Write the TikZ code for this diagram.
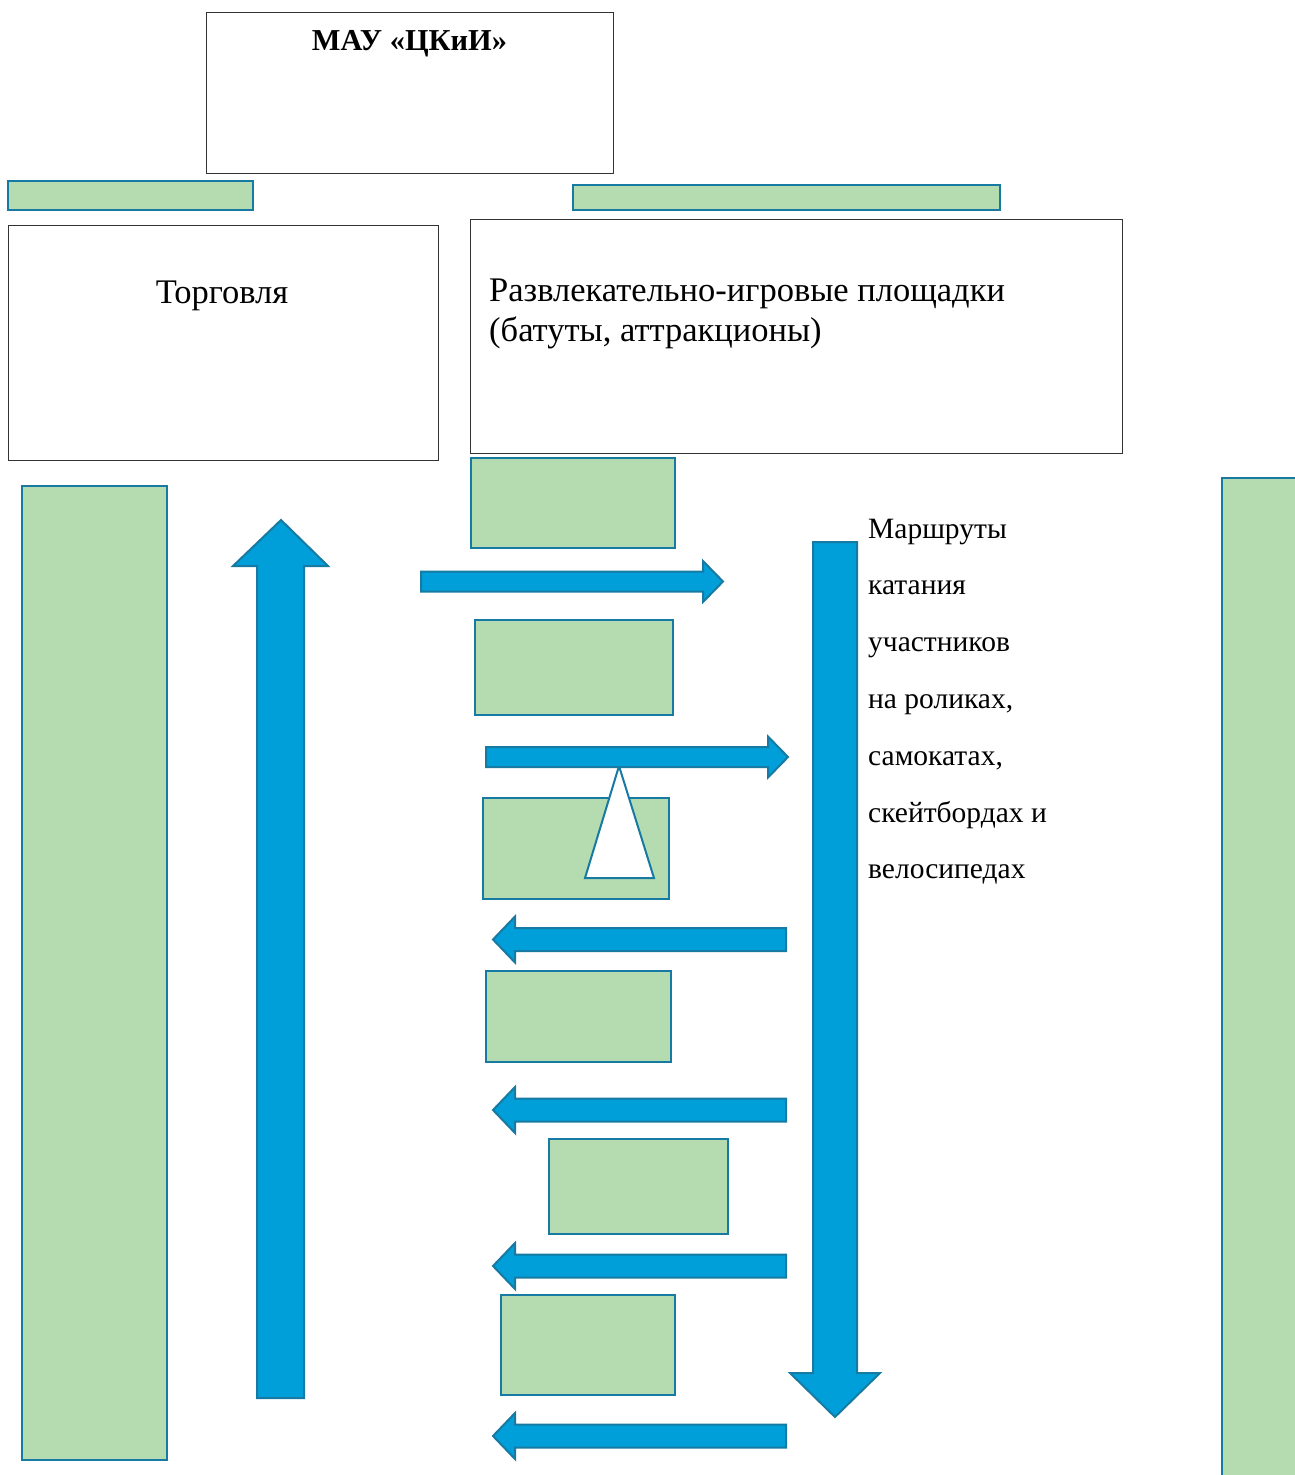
\documentclass[tikz,border=0pt]{standalone}
\usepackage{fontspec}
\setmainfont{Liberation Serif}
\usepackage{xcolor}
\usepackage{tikz}
\usetikzlibrary{positioning}

\definecolor{boxgreen}{RGB}{181,220,176}
\definecolor{boxedge}{RGB}{22,122,162}
\definecolor{arrowblue}{RGB}{0,159,217}

\tikzset{
  plainbox/.style={draw=black!80, line width=1pt, fill=white, inner sep=0pt, anchor=north west},
  greenbox/.style={draw=boxedge, line width=2pt, fill=boxgreen},
  blockarrow/.style={draw=boxedge, line width=2pt, fill=arrowblue, line join=miter},
  label/.style={inner sep=0pt, anchor=base}
}

\begin{document}
\begin{tikzpicture}[x=1pt, y=-1pt]
  \useasboundingbox (0,0) rectangle (1295,1475);

  % top boxes
  \node[plainbox, minimum width=407pt, minimum height=161pt] (mau) at (206,12) {};
  \node[label, font=\bfseries\fontsize{30.4}{36}\selectfont] (mautitle) at (409.5,50) {МАУ «ЦКиИ»};
  \draw[greenbox] (8,181) rectangle (253,210);
  \draw[greenbox] (573,185) rectangle (1000,210);
  \node[plainbox, minimum width=430pt, minimum height=235pt] (trade) at (8,225) {};
  \node[label, font=\fontsize{34.5}{40}\selectfont] (tradetitle) at (222,303) {Торговля};
  \node[plainbox, minimum width=652pt, minimum height=234pt] (play) at (470,219) {};
  % base of a two-line node sits on its last line
  \node[label, anchor=base west, align=left, font=\fontsize{34.5}{40}\selectfont] (playtitle) at (489,341)
    {Развлекательно-игровые площадки\\(батуты, аттракционы)};

  % side columns
  \draw[greenbox] (22,486) rectangle (167,1460);
  \draw[greenbox] (1222,478) rectangle (1320,1500);

  % middle boxes
  \draw[greenbox] (471,458) rectangle (675,548);
  \draw[greenbox] (475,620) rectangle (673,715);
  \draw[greenbox] (483,798) rectangle (669,899);
  \draw[greenbox] (486,971) rectangle (671,1062);
  \draw[greenbox] (549,1139) rectangle (728,1234);
  \draw[greenbox] (501,1295) rectangle (675,1395);
  \draw[draw=boxedge, line width=2pt, fill=white] (619,766) -- (654,878) -- (585,878) -- cycle;

  % vertical arrows
  \draw[blockarrow] (257,1398) -- (257,566) -- (233,566) -- (281,520) -- (328,566) -- (304,566) -- (304,1398) -- cycle;
  \draw[blockarrow] (813,542) -- (813,1373) -- (790,1373) -- (835,1417) -- (880,1373) -- (857,1373) -- (857,542) -- cycle;

  % horizontal arrows
  \foreach \xa/\xb/\xc/\y in {421/703/723/581.5, 486/768/788/757}
    \draw[blockarrow] (\xa,\y-10) -- (\xb,\y-10) -- (\xb,\y-20.5) -- (\xc,\y) -- (\xb,\y+20.5) -- (\xb,\y+10) -- (\xa,\y+10) -- cycle;
  \foreach \y in {939.5,1110,1266,1436}
    \draw[blockarrow] (786,\y-11.5) -- (515,\y-11.5) -- (515,\y-23) -- (493,\y) -- (515,\y+23) -- (515,\y+11.5) -- (786,\y+11.5) -- cycle;

  \node[label, anchor=base west, align=left, font=\fontsize{29.5}{56.8}\selectfont] (routes) at (868,878.8)
    {Маршруты\\катания\\участников\\на роликах,\\самокатах,\\скейтбордах и\\велосипедах};
\end{tikzpicture}
\end{document}
